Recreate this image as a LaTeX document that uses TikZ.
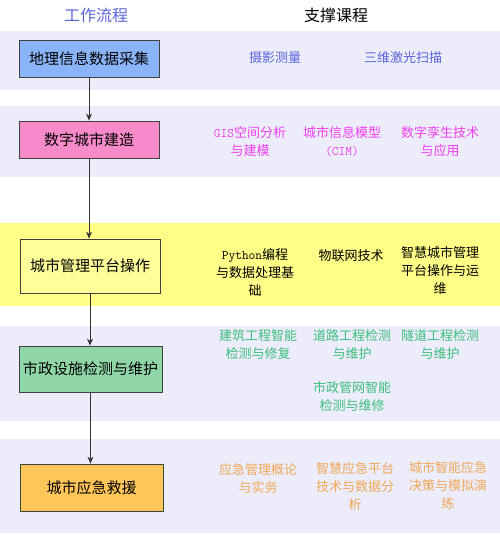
\documentclass[tikz,border=0pt]{standalone}
\usepackage{fontspec}
\setmainfont{Noto Sans CJK SC}
\usetikzlibrary{arrows.meta}
\definecolor{bandlav}{HTML}{ECECFB}
\definecolor{bandyel}{HTML}{FFFF88}
\definecolor{boxblue}{HTML}{8AB4F8}
\definecolor{boxpink}{HTML}{F78AC8}
\definecolor{boxyel}{HTML}{FFFF99}
\definecolor{boxgreen}{HTML}{90D7A8}
\definecolor{boxorange}{HTML}{FFC65A}
\definecolor{txtblue}{HTML}{5A64DC}
\definecolor{txtpink}{HTML}{F040F0}
\definecolor{txtgreen}{HTML}{3CBE7C}
\definecolor{txtorange}{HTML}{F0A858}
\newcommand{\en}[1]{{\ttfamily #1}}

\begin{document}
\begin{tikzpicture}[x=1pt,y=-1pt,
    flow/.style={draw=black!75,line width=0.8pt,minimum width=140pt,inner sep=0pt,
      font=\fontsize{15}{18}\selectfont},
    course/.style={align=center,font=\fontsize{13}{18}\selectfont},
    link/.style={-{Stealth[length=7pt,width=6pt]},line width=0.9pt,black!80}]
    \useasboundingbox (0,0) rectangle (500,535);

    % bands
    \fill[bandlav] (0,31) rectangle (500,90);
    \fill[bandlav] (0,106) rectangle (500,177);
    \fill[bandyel] (0,223) rectangle (500,306);
    \fill[bandlav] (0,326) rectangle (500,421);
    \fill[bandlav] (0,439) rectangle (500,533);

    % headings
    \node[font=\fontsize{16}{18}\selectfont,txtblue] (work) at (96,15) {工作流程};
    \node[font=\fontsize{16}{18}\selectfont] (support) at (336,15) {支撑课程};

    % workflow
    \node[flow,fill=boxblue,minimum height=37pt] (data) at (89,58.5) {地理信息数据采集};
    \node[flow,fill=boxpink,minimum height=37pt] (build) at (89,139.5) {数字城市建造};
    \node[flow,fill=boxyel,minimum height=54pt] (manage) at (90,266) {城市管理平台操作};
    \node[flow,fill=boxgreen,minimum width=143pt,minimum height=46pt] (muni) at (90.5,369) {市政设施检测与维护};
    \node[flow,fill=boxorange,minimum width=143pt,minimum height=47pt] (rescue) at (91.5,487.5) {城市应急救援};

    \foreach \a/\b in {data/build,build/manage,manage/muni,muni/rescue}{
      \draw[link] (\a.south) -- (\a.south |- \b.north);
    }

    % courses
    \node[course,txtblue] (photo) at (275,58) {摄影测量};
    \node[course,txtblue] (laser) at (403,58) {三维激光扫描};

    \node[course,txtpink] (gis) at (250,141.5) {\en{GIS}空间分析\\与建模};
    \node[course,txtpink] (cim) at (342,141.5) {城市信息模型\\\en{(CIM)}};
    \node[course,txtpink] (twin) at (440,141.5) {数字孪生技术\\与应用};

    \node[course] (python) at (255,272) {\en{Python}编程\\与数据处理基\\础};
    \node[course] (iot) at (351,256) {物联网技术};
    \node[course] (smart) at (440,271) {智慧城市管理\\平台操作与运\\维};

    \node[course,txtgreen] (bldg) at (258,345) {建筑工程智能\\检测与修复};
    \node[course,txtgreen] (road) at (352,345) {道路工程检测\\与维护};
    \node[course,txtgreen] (tunnel) at (440,345) {隧道工程检测\\与维护};
    \node[course,txtgreen] (pipe) at (352,397) {市政管网智能\\检测与维修};

    \node[course,txtorange] (emerg) at (258,478.5) {应急管理概论\\与实务};
    \node[course,txtorange] (eplat) at (355,486.5) {智慧应急平台\\技术与数据分\\析};
    \node[course,txtorange] (edec) at (448,485) {城市智能应急\\决策与模拟演\\练};
\end{tikzpicture}
\end{document}
